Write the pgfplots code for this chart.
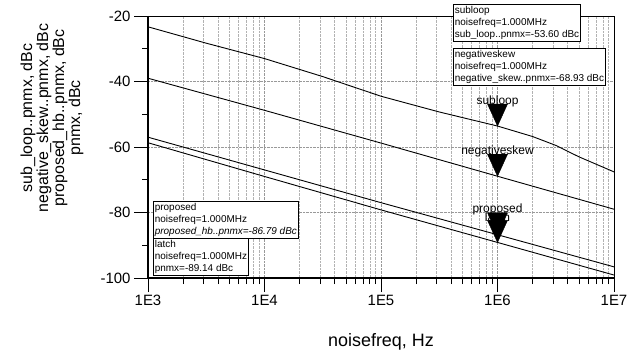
\documentclass[border=0pt]{standalone}
\usepackage{fontspec}
\setmainfont{Liberation Sans}
\usepackage{pgfplots}
\pgfplotsset{compat=1.18}
\pgfdeclareplotmark{dtri}{%
  \pgfpathmoveto{\pgfpoint{0bp}{0bp}}%
  \pgfpathlineto{\pgfpoint{-10bp}{22bp}}%
  \pgfpathlineto{\pgfpoint{10bp}{22bp}}%
  \pgfpathclose\pgfusepathqfillstroke}
\begin{document}
\begin{tikzpicture}
\begin{axis}[
  scale only axis, width=466bp, height=262bp,
  xmode=log, xmin=1e3, xmax=1e7, ymin=-100, ymax=-20,
  xtick={1e3,1e4,1e5,1e6,1e7}, xticklabels={1E3,1E4,1E5,1E6,1E7},
  ytick={-100,-80,-60,-40,-20}, minor ytick={-90,-70,-50,-30},
  xtick pos=bottom, ytick pos=left, tick align=outside,
  major tick length=14bp, minor tick length=6bp,
  tick style={black, line width=0.6bp},
  ticklabel style={font=\fontsize{15}{15}\selectfont},
  /pgf/number format/assume math mode=true,
  xmajorgrids, xminorgrids, ymajorgrids,
  major grid style={densely dotted, gray!80},
  minor grid style={densely dotted, gray!60},
  axis line style={black, line width=0.8bp},
  clip=false,
]
\coordinate (o) at (rel axis cs:0,0);
\addplot[black, line width=0.9bp] coordinates {
 (1e3,-23.3) (3.16e3,-28.3) (1e4,-33) (3.16e4,-38.5) (1e5,-44.5) (3.16e5,-49.3)
 (1e6,-53.6) (2e6,-56.8) (3.16e6,-59.5) (5e6,-63) (1e7,-67.6)};
\addplot[black, line width=0.9bp] coordinates {
 (1e3,-39) (1e4,-48.8) (1e5,-58.8) (1e6,-68.93) (1e7,-79)};
\addplot[black, line width=0.9bp] coordinates {
 (1e3,-57) (1e4,-67) (1e5,-77) (1e6,-86.79) (1e7,-96.6)};
\addplot[black, line width=0.9bp] coordinates {
 (1e3,-58.7) (1e4,-69) (1e5,-79.2) (1e6,-89.14) (1e7,-99.1)};
% marker labels
\addplot[draw=none, nodes near coords, point meta=explicit symbolic,
  every node near coord/.append style={anchor=center, yshift=25bp, font=\fontsize{12}{12}\selectfont, inner sep=0pt}]
  coordinates {(1e6,-89.14)[latch] (1e6,-86.79)[proposed] (1e6,-68.93)[negativeskew] (1e6,-53.6)[subloop]};
% markers
\addplot[only marks, mark=dtri, black, fill=black] coordinates {
 (1e6,-53.6) (1e6,-68.93) (1e6,-86.79) (1e6,-89.14)};
\end{axis}
\draw[black, line width=1.6bp] ([shift={(0,262bp)}]o) -- (o) -- ([shift={(466bp,0)}]o);
\tikzset{abox/.style={draw=black, line width=0.7bp, fill=white, align=left, anchor=north west,
  inner sep=1.5bp, font=\fontsize{10}{12.5}\selectfont}}
\node[abox] at ([shift={(305bp,274bp)}]o) {subloop\\noisefreq=1.000MHz\\sub\_loop..pnmx=-53.60 dBc};
\node[abox] at ([shift={(305bp,230bp)}]o) {negativeskew\\noisefreq=1.000MHz\\negative\_skew..pnmx=-68.93 dBc};
\node[abox] at ([shift={(5bp,77bp)}]o) {proposed\\noisefreq=1.000MHz\\\textit{proposed\_hb..pnmx=-86.79 dBc}};
\node[abox] at ([shift={(5bp,40bp)}]o) {latch\\noisefreq=1.000MHz\\pnmx=-89.14 dBc};
\node[rotate=90, align=center, font=\fontsize{16}{16}\selectfont] at ([shift={(-96bp,160bp)}]o)
  {sub\_loop..pnmx, dBc\\negative\_skew..pnmx, dBc\\proposed\_hb..pnmx, dBc\\pnmx, dBc};
\node[font=\fontsize{18}{18}\selectfont] at ([shift={(233bp,-64bp)}]o) {noisefreq, Hz};
\pgfresetboundingbox
\path[use as bounding box] ([shift={(-148bp,-82bp)}]o) rectangle ([shift={(488bp,278bp)}]o);
\end{tikzpicture}
\end{document}
